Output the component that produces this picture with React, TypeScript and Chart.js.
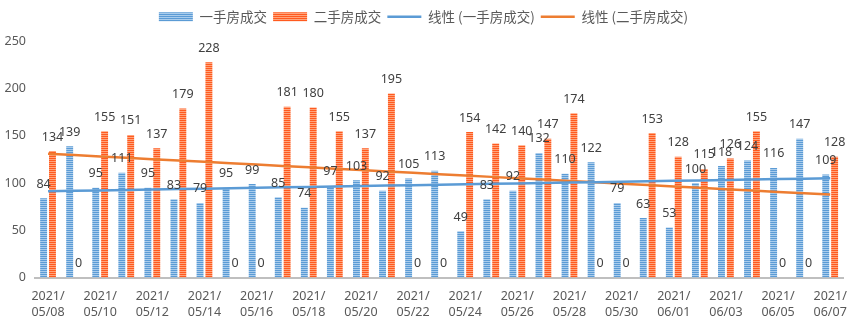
import React, { useEffect, useRef } from 'react';
import { Chart, registerables } from 'chart.js';

Chart.register(...registerables);

const dates = [
  '2021/05/08', '2021/05/09', '2021/05/10', '2021/05/11', '2021/05/12', '2021/05/13', '2021/05/14',
  '2021/05/15', '2021/05/16', '2021/05/17', '2021/05/18', '2021/05/19', '2021/05/20', '2021/05/21',
  '2021/05/22', '2021/05/23', '2021/05/24', '2021/05/25', '2021/05/26', '2021/05/27', '2021/05/28',
  '2021/05/29', '2021/05/30', '2021/05/31', '2021/06/01', '2021/06/02', '2021/06/03', '2021/06/04',
  '2021/06/05', '2021/06/06', '2021/06/07',
];

const firstHand = [84, 139, 95, 111, 95, 83, 79, 95, 99, 85, 74, 97, 103, 92, 105, 113, 49, 83, 92, 132, 110, 122, 79, 63, 53, 100, 118, 124, 116, 147, 109];
const secondHand = [134, 0, 155, 151, 137, 179, 228, 0, 0, 181, 180, 155, 137, 195, 0, 0, 154, 142, 140, 147, 174, 0, 0, 153, 128, 115, 126, 155, 0, 0, 128];

const seriesNames = ['一手房成交', '二手房成交', '线性 (一手房成交)', '线性 (二手房成交)'];
const yTicks = [0, 50, 100, 150, 200, 250];

function linearFit(ys: number[]): number[] {
  const n = ys.length;
  const mx = (n - 1) / 2;
  const my = ys.reduce((a, b) => a + b, 0) / n;
  let sxy = 0;
  let sxx = 0;
  ys.forEach((y, i) => {
    sxy += (i - mx) * (y - my);
    sxx += (i - mx) * (i - mx);
  });
  const b = sxy / sxx;
  return ys.map((_, i) => my + b * (i - mx));
}

function stripe(ctx: CanvasRenderingContext2D, dark: string, light: string) {
  const c = document.createElement('canvas');
  c.width = 4;
  c.height = 2;
  const x = c.getContext('2d')!;
  x.fillStyle = dark;
  x.fillRect(0, 0, 4, 1);
  x.fillStyle = light;
  x.fillRect(0, 1, 4, 1);
  return ctx.createPattern(c, 'repeat') as CanvasPattern;
}

const DIGIT_FONT = '"Noto Sans", "DejaVu Sans", sans-serif';
const CJK_FONT = '"Noto Sans CJK SC", "Noto Sans", sans-serif';

const legendFix = {
  id: 'legendFix',
  beforeLayout(chart: any) {
    const lg = chart.legend;
    if (lg && !lg._patched) {
      const f = lg.fit.bind(lg);
      lg.fit = () => {
        f();
        lg.height = 37.5;
      };
      lg._patched = true;
    }
  },
};

const dataLabels = {
  id: 'dataLabels',
  afterDatasetsDraw(chart: any) {
    const ctx = chart.ctx;
    ctx.save();
    ctx.font = '12.5px ' + DIGIT_FONT;
    ctx.fillStyle = '#404040';
    ctx.textAlign = 'center';
    ctx.textBaseline = 'alphabetic';
    chart.data.datasets.forEach((ds: any, di: number) => {
      if (ds.type === 'line') return;
      const meta = chart.getDatasetMeta(di);
      meta.data.forEach((el: any, i: number) => {
        ctx.fillText(String(ds.data[i]), el.x, el.y - 10.5);
      });
    });
    ctx.restore();
  },
};

export default function App() {
  const ref = useRef<HTMLCanvasElement>(null);

  useEffect(() => {
    const canvas = ref.current!;
    const ctx = canvas.getContext('2d')!;
    const bluePat = stripe(ctx, '#5B9BD5', '#A9CCEC');
    const orangePat = stripe(ctx, '#FF5A1F', '#FFA47C');
    const trend1 = linearFit(firstHand);
    const trend2 = linearFit(secondHand);

    const chart = new Chart(canvas, {
      type: 'bar',
      data: {
        labels: dates,
        datasets: [
          {
            label: seriesNames[0],
            data: firstHand,
            backgroundColor: bluePat,
            order: 2,
            categoryPercentage: 0.68,
            barPercentage: 0.78,
          } as any,
          {
            label: seriesNames[1],
            data: secondHand,
            backgroundColor: orangePat,
            order: 2,
            categoryPercentage: 0.68,
            barPercentage: 0.78,
          } as any,
          {
            type: 'line',
            label: seriesNames[2],
            data: trend1,
            borderColor: '#5B9BD5',
            backgroundColor: '#5B9BD5',
            borderWidth: 2.5,
            pointRadius: 0,
            fill: false,
            order: 1,
          } as any,
          {
            type: 'line',
            label: seriesNames[3],
            data: trend2,
            borderColor: '#ED7D31',
            backgroundColor: '#ED7D31',
            borderWidth: 2.5,
            pointRadius: 0,
            fill: false,
            order: 1,
          } as any,
        ],
      },
      options: {
        responsive: false,
        animation: false,
        layout: { padding: { top: 4, right: 11, left: 0, bottom: 0 } },
        plugins: {
          tooltip: { enabled: false },
          legend: {
            position: 'top',
            align: 'center',
            labels: {
              usePointStyle: true,
              pointStyleWidth: 34,
              boxHeight: 9,
              padding: 6,
              color: '#595959',
              font: { family: CJK_FONT, size: 13.5 },
              generateLabels: (ch: any) =>
                ch.data.datasets.map((ds: any, i: number) => {
                  const isLine = ds.type === 'line';
                  return {
                    text: ds.label,
                    fillStyle: isLine ? ds.borderColor : ds.backgroundColor,
                    strokeStyle: isLine ? ds.borderColor : 'rgba(0,0,0,0)',
                    lineWidth: isLine ? 2.5 : 0,
                    pointStyle: isLine ? 'line' : 'rect',
                    fontColor: '#595959',
                    hidden: false,
                    datasetIndex: i,
                  };
                }),
            },
          },
        },
        scales: {
          x: {
            grid: { display: false, drawTicks: false },
            border: { display: true, color: '#BFBFBF', width: 2 },
            afterFit: (s: any) => {
              s.height = 45.5;
            },
            ticks: {
              autoSkip: false,
              maxRotation: 0,
              minRotation: 0,
              padding: 11,
              color: '#595959',
              font: { family: DIGIT_FONT, size: 12.5, lineHeight: 1.3 },
              callback: (_v: any, index: number) => {
                if (index % 2) return '';
                const s = dates[index];
                return [s.slice(0, 5), s.slice(5)];
              },
            },
          },
          y: {
            min: yTicks[0],
            max: yTicks[yTicks.length - 1],
            grid: { display: false, drawTicks: false },
            border: { display: false },
            afterFit: (s: any) => {
              s.width = 35;
            },
            ticks: {
              stepSize: 50,
              padding: 9,
              color: '#595959',
              font: { family: DIGIT_FONT, size: 12.5 },
            },
          },
        },
      },
      plugins: [legendFix, dataLabels],
    });

    return () => chart.destroy();
  }, []);

  return (
    <div style={{ position: 'fixed', left: 0, top: 0, width: 858, height: 323, background: '#fff' }}>
      <canvas ref={ref} width={858} height={323} style={{ display: 'block' }} />
    </div>
  );
}
